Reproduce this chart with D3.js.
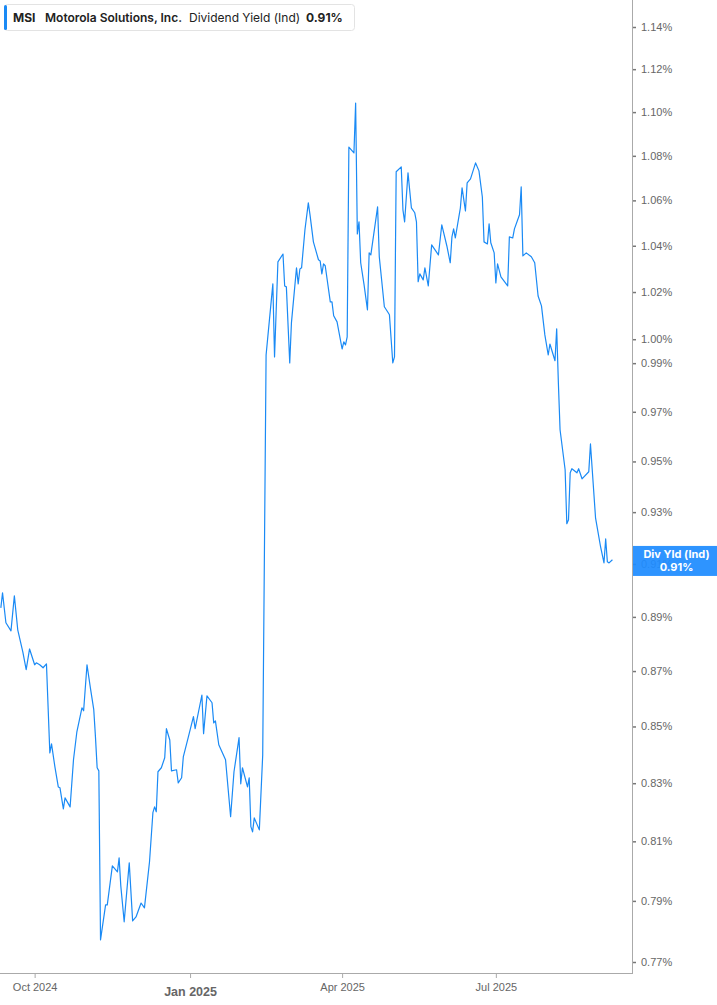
<!DOCTYPE html>
<html>
<head>
<meta charset="utf-8">
<script src="https://cdn.jsdelivr.net/npm/d3@7"></script>
<style>
  html, body { margin: 0; padding: 0; background: #fff; }
  svg { display: block; font-family: Inter, "Noto Sans", sans-serif; }
</style>
</head>
<body>
<svg id="chart" width="717" height="1005"></svg>
<script>
// ---- Data ----
const dates = [
  "2024-09-11","2024-09-12","2024-09-14","2024-09-17","2024-09-19","2024-09-21","2024-09-24","2024-09-26","2024-09-28",
  "2024-10-01","2024-10-02","2024-10-04","2024-10-06","2024-10-08","2024-10-10","2024-10-11","2024-10-13","2024-10-15",
  "2024-10-16","2024-10-18","2024-10-19","2024-10-22","2024-10-24","2024-10-26","2024-10-29","2024-10-30",
  "2024-11-01","2024-11-03","2024-11-05","2024-11-06","2024-11-07","2024-11-08","2024-11-09","2024-11-12","2024-11-13",
  "2024-11-16","2024-11-19","2024-11-20","2024-11-21","2024-11-23","2024-11-26","2024-11-28","2024-11-30",
  "2024-12-03","2024-12-05","2024-12-08","2024-12-10","2024-12-11","2024-12-12","2024-12-13","2024-12-15","2024-12-17",
  "2024-12-18","2024-12-20","2024-12-21","2024-12-24","2024-12-25","2024-12-27","2024-12-28","2024-12-31",
  "2025-01-03","2025-01-04","2025-01-08","2025-01-09","2025-01-11","2025-01-14","2025-01-15","2025-01-16","2025-01-18",
  "2025-01-22","2025-01-25","2025-01-27","2025-01-30","2025-01-31",
  "2025-02-01","2025-02-04","2025-02-05","2025-02-06","2025-02-07","2025-02-08","2025-02-11","2025-02-13","2025-02-15",
  "2025-02-19","2025-02-20","2025-02-22","2025-02-25","2025-02-26","2025-02-27",
  "2025-03-01","2025-03-02","2025-03-05","2025-03-06","2025-03-07","2025-03-08","2025-03-10","2025-03-12","2025-03-13",
  "2025-03-15","2025-03-18","2025-03-19","2025-03-20","2025-03-21","2025-03-22","2025-03-25","2025-03-26","2025-03-27","2025-03-29",
  "2025-04-01","2025-04-02","2025-04-03","2025-04-04","2025-04-05","2025-04-08","2025-04-09","2025-04-10","2025-04-11",
  "2025-04-12","2025-04-14","2025-04-16","2025-04-17","2025-04-18","2025-04-22","2025-04-23","2025-04-26","2025-04-28","2025-04-29",
  "2025-05-01","2025-05-02","2025-05-03","2025-05-06","2025-05-07","2025-05-08","2025-05-10","2025-05-12","2025-05-14",
  "2025-05-15","2025-05-16","2025-05-17","2025-05-19","2025-05-20","2025-05-22","2025-05-24","2025-05-28","2025-05-30",
  "2025-06-02","2025-06-04","2025-06-05","2025-06-06","2025-06-07","2025-06-10","2025-06-11","2025-06-13","2025-06-14",
  "2025-06-16","2025-06-19","2025-06-21","2025-06-23","2025-06-24","2025-06-26","2025-06-27","2025-06-28","2025-06-30",
  "2025-07-01","2025-07-02","2025-07-04","2025-07-08","2025-07-09","2025-07-11","2025-07-12","2025-07-15","2025-07-16",
  "2025-07-17","2025-07-19","2025-07-22","2025-07-24","2025-07-26","2025-07-28","2025-07-30",
  "2025-08-01","2025-08-02","2025-08-05","2025-08-06","2025-08-07","2025-08-08","2025-08-11","2025-08-12","2025-08-13",
  "2025-08-14","2025-08-15","2025-08-18","2025-08-19","2025-08-21","2025-08-25","2025-08-26","2025-08-29",
  "2025-09-01","2025-09-03","2025-09-04","2025-09-05","2025-09-06","2025-09-08"
];
const values = [
  0.8934,0.8990,0.8878,0.8848,0.8979,0.8852,0.8770,0.8705,0.8781,
  0.8723,0.8730,0.8723,0.8712,0.8726,0.8406,0.8438,0.8357,0.8287,
  0.8284,0.8211,0.8249,0.8218,0.8382,0.8481,0.8567,0.8556,
  0.8723,0.8639,0.8560,0.8463,0.8354,0.8343,0.7772,0.7887,0.7887,
  0.8017,0.7997,0.8044,0.7950,0.7831,0.8027,0.7834,0.7847,
  0.7893,0.7877,0.8031,0.8198,0.8218,0.8201,0.8340,0.8354,0.8389,
  0.8492,0.8452,0.8343,0.8347,0.8301,0.8319,0.8392,0.8463,
  0.8535,0.8492,0.8613,0.8474,0.8610,0.8585,0.8513,0.8520,0.8435,
  0.8382,0.8184,0.8340,0.8460,0.8298,
  0.8354,0.8287,0.8319,0.8150,0.8132,0.8180,0.8139,0.8399,0.9934,
  1.0235,0.9926,1.0330,1.0364,1.0226,1.0222,
  0.9901,1.0069,1.0304,1.0235,1.0299,1.0304,1.0470,1.0589,1.0536,
  1.0417,1.0339,1.0334,1.0278,1.0321,1.0313,1.0158,1.0158,1.0099,1.0073,
  0.9959,0.9989,0.9976,1.0010,1.0840,1.0813,1.1042,1.0452,1.0505,
  1.0326,1.0231,1.0124,1.0369,1.0360,1.0571,1.0352,1.0137,1.0115,1.0103,
  0.9901,0.9926,1.0728,1.0750,1.0558,1.0505,1.0723,1.0567,1.0545,
  1.0505,1.0244,1.0278,1.0252,1.0304,1.0226,1.0404,1.0360,1.0492,
  1.0399,1.0326,1.0439,1.0474,1.0434,1.0567,1.0656,1.0553,1.0678,
  1.0696,1.0768,1.0732,1.0615,1.0417,1.0408,1.0496,1.0413,1.0369,
  1.0239,1.0321,1.0265,1.0226,1.0439,1.0434,1.0474,1.0536,1.0660,
  1.0356,1.0369,1.0352,1.0326,1.0183,1.0141,1.0018,
  0.9934,0.9980,0.9910,1.0044,0.9819,0.9627,0.9467,0.9255,0.9270,
  0.9455,0.9471,0.9455,0.9471,0.9431,0.9459,0.9570,0.9278,
  0.9165,0.9104,0.9196,0.9108,0.9104,0.9116
];
const yTicks = [1.14,1.12,1.10,1.08,1.06,1.04,1.02,1.00,0.99,0.97,0.95,0.93,0.91,0.89,0.87,0.85,0.83,0.81,0.79,0.77];
const xTickDates = ["2024-10-01","2025-01-01","2025-04-01","2025-07-01"];
const xTickLabels = ["Oct 2024","Jan 2025","Apr 2025","Jul 2025"];
const ticker = "MSI";
const company = "Motorola Solutions, Inc.";
const metric = "Dividend Yield (Ind)";
const lastLabel = "Div Yld (Ind)";
const lastValue = 0.91;

// ---- Layout ----
const W = 717, H = 1005;
const plotRight = 632, axisY = 973;
const lineColor = "#1a8af5";
const parse = d3.timeParse("%Y-%m-%d");
const data = dates.map((d, i) => ({ date: parse(d), value: values[i] }));

const x = d3.scaleTime()
  .domain([new Date(2024, 8, 10, 12), new Date(2025, 8, 19, 14)])
  .range([0, plotRight]);
const y = d3.scaleLog().domain([0.77, 1.14]).range([962, 27]);

const svg = d3.select("#chart");

// Y axis (right)
const yAxis = svg.append("g")
  .attr("transform", `translate(${plotRight},0)`)
  .call(d3.axisRight(y).tickValues(yTicks).tickSize(4).tickPadding(5)
    .tickFormat(d => d3.format(".2f")(d) + "%"));
yAxis.select(".domain").remove();
yAxis.selectAll(".tick line").attr("stroke", "#777").attr("stroke-width", 1.5).attr("x1", 1).attr("x2", 4);
yAxis.selectAll(".tick text").attr("fill", "#666").style("font-size", "11px").attr("x", 9);
svg.append("line").attr("x1", plotRight + 0.5).attr("x2", plotRight + 0.5)
  .attr("y1", 0).attr("y2", axisY).attr("stroke", "#aaa").attr("stroke-width", 1);

// X axis (bottom)
const xAxis = svg.append("g")
  .attr("transform", `translate(0,${axisY})`)
  .call(d3.axisBottom(x).tickValues(xTickDates.map(parse)).tickSize(5).tickPadding(5)
    .tickFormat((d, i) => xTickLabels[i]));
xAxis.select(".domain").remove();
svg.append("line").attr("x1", 0).attr("x2", plotRight + 1)
  .attr("y1", axisY + 0.5).attr("y2", axisY + 0.5).attr("stroke", "#aaa");
xAxis.selectAll(".tick line").attr("stroke", "#aaa");
xAxis.selectAll(".tick text").attr("fill", "#666").style("font-size", "11px")
  .style("font-weight", (d, i) => xTickLabels[i].startsWith("Jan") ? 700 : 400)
  .style("font-size", (d, i) => xTickLabels[i].startsWith("Jan") ? "12.5px" : "11px")
  .attr("dy", (d, i) => xTickLabels[i].startsWith("Jan") ? "1.05em" : "0.71em");

// Line
const line = d3.line().x(d => x(d.date)).y(d => y(d.value));
svg.append("path").datum(data)
  .attr("d", line).attr("fill", "none")
  .attr("stroke", lineColor).attr("stroke-width", 1.2).attr("stroke-linejoin", "round");

// Last value label
const ly = y(lastValue);
const lab = svg.append("g");
lab.append("rect").attr("x", plotRight + 1).attr("y", ly - 18).attr("width", W - plotRight - 1).attr("height", 30)
  .attr("fill", "#1e8cff").attr("opacity", 0.93);
lab.append("text").attr("x", (plotRight + W) / 2 + 2).attr("y", ly - 6).attr("text-anchor", "middle")
  .attr("fill", "#fff").style("font-size", "11px").style("font-weight", 700).text(lastLabel);
lab.append("text").attr("x", (plotRight + W) / 2 + 2).attr("y", ly + 7).attr("text-anchor", "middle")
  .attr("fill", "#fff").style("font-size", "11px").style("font-weight", 700).text(d3.format(".2f")(lastValue) + "%");

// Legend box
const lg = svg.append("g");
lg.append("rect").attr("x", 4.5).attr("y", 4.5).attr("width", 350).attr("height", 26).attr("rx", 3)
  .attr("fill", "#fff").attr("stroke", "#e3e3e3");
lg.append("rect").attr("x", 4).attr("y", 5).attr("width", 3).attr("height", 25).attr("rx", 1.5).attr("fill", lineColor);
const lt = lg.append("text").attr("x", 13).attr("y", 22).style("font-size", "12px").attr("fill", "#222");
lt.append("tspan").style("font-weight", 700).text(ticker);
lt.append("tspan").attr("x", 45).style("font-weight", 600).text(company);
lt.append("tspan").attr("x", 189).style("font-weight", 400).text(metric);
lt.append("tspan").attr("x", 306).style("font-weight", 700).text(d3.format(".2f")(lastValue) + "%");
</script>
</body>
</html>
